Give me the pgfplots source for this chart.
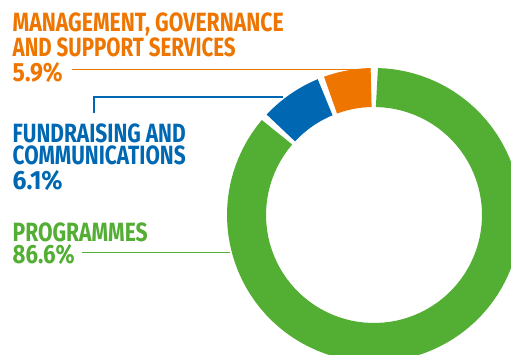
\documentclass[border=0pt]{standalone}
\usepackage{fontspec}
\setmainfont{Fira Sans}
\usepackage{graphicx}
\usepackage{pgfplots}
\pgfplotsset{compat=1.18}
\usepgfplotslibrary{polar}

\definecolor{cOrange}{RGB}{238,118,0}
\definecolor{cBlue}{RGB}{0,104,178}
\definecolor{cGreen}{RGB}{83,174,52}

% shares of the ring as drawn (per cent)
\def\shareM{5.9}  % management, governance and support services
\def\shareF{7.5}  % fundraising and communications
\def\shareP{86.6} % programmes
\def\gap{1.3}     % half gap between segments, degrees

\pgfmathsetmacro\aA{90}
\pgfmathsetmacro\aB{\aA+3.6*\shareM}
\pgfmathsetmacro\aC{\aB+3.6*\shareF}
\pgfmathsetmacro\aD{\aC+3.6*\shareP}

\newcommand\lab[2]{\resizebox{#1}{\height}{\fontsize{26.5}{26.5}\selectfont\bfseries #2}}

\begin{document}
\begin{tikzpicture}[x=1bp,y=1bp]
\clip (0,0) rectangle (511,354);
\path[fill=white] (0,0) rectangle (511,354);

\begin{polaraxis}[
    hide axis,
    scale only axis,
    width=294bp, height=294bp,
    ymin=0, ymax=147,
    clip=false,
    at={(374bp,139bp)}, anchor=center,
    every axis plot/.append style={line width=39bp, line cap=butt, samples=90},
]
\addplot[cOrange, domain={\aA+\gap}:{\aB-\gap}] {127.5};
\addplot[cBlue,   domain={\aB+\gap}:{\aC-\gap}] {127.5};
\addplot[cGreen,  domain={\aC+\gap}:{\aD-\gap}] {127.5};
\end{polaraxis}

% leader lines
\draw[cOrange, line width=1.8bp] (72,284.5) -- (371,284.5);
\draw[cBlue,   line width=1.8bp] (94,241) -- (94,257) -- (283,257);
\draw[cGreen,  line width=1.8bp] (82,101.5) -- (230,101.5);

% labels
\node[anchor=base west, inner sep=0, text=cOrange] at (12.5,322.3) {\lab{271bp}{MANAGEMENT, GOVERNANCE}};
\node[anchor=base west, inner sep=0, text=cOrange] at (12.5,297.3) {\lab{223bp}{AND SUPPORT SERVICES}};
\node[anchor=base west, inner sep=0, text=cOrange] at (12.5,272.3) {\lab{50bp}{5.9\%}};

\node[anchor=base west, inner sep=0, text=cBlue] at (12.5,212) {\lab{173bp}{FUNDRAISING AND}};
\node[anchor=base west, inner sep=0, text=cBlue] at (12.5,190) {\lab{173bp}{COMMUNICATIONS}};
\node[anchor=base west, inner sep=0, text=cBlue] at (12.5,165) {\lab{50bp}{6.1\%}};

\node[anchor=base west, inner sep=0, text=cGreen] at (12.5,113) {\lab{135bp}{PROGRAMMES}};
\node[anchor=base west, inner sep=0, text=cGreen] at (12.5,91) {\lab{62bp}{86.6\%}};
\end{tikzpicture}
\end{document}
